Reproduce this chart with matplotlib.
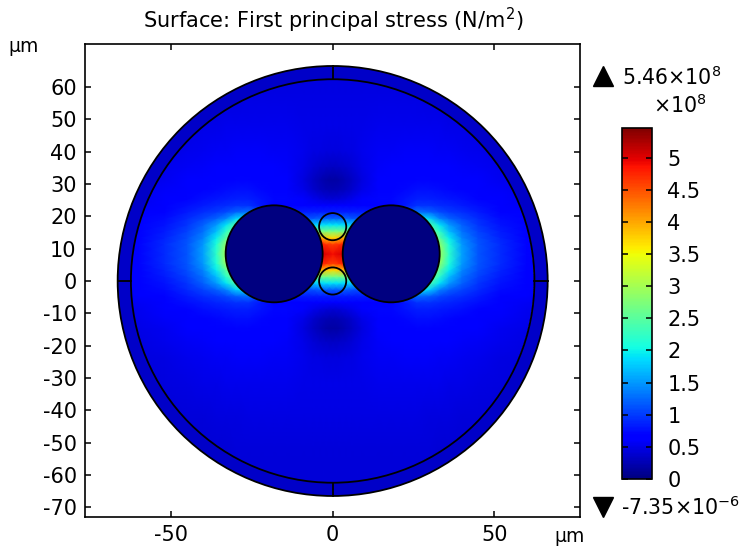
import numpy as np
import matplotlib
matplotlib.use("Agg")
import matplotlib.pyplot as plt
from matplotlib.lines import Line2D
from matplotlib.patches import Circle, Wedge

plt.rcParams["font.family"] = "DejaVu Sans"
plt.rcParams["mathtext.default"] = "regular"
plt.rcParams["axes.unicode_minus"] = False

W, H = 739, 552

# stress, 1e8 N/m^2, one quadrant around the hole centre
x_nodes = [0, 2, 4, 6, 9, 14, 18, 22, 26, 30, 33, 36, 40, 45, 52, 60, 68]
dy_nodes = [0, 3, 5, 7, 9, 11, 13, 15, 17, 20, 23, 27, 32, 40, 50, 60, 80]
stress = [
    [4.9, 5.0, 5.0, 4.8, 4.0, 3.5, 3.2, 3.1, 3.0, 3.0, 3.0, 2.2, 1.55, 1.15, 0.9, 0.7, 0.6],
    [4.6, 4.7, 4.8, 4.7, 4.0, 3.5, 3.2, 3.1, 3.0, 3.0, 2.9, 2.1, 1.5, 1.15, 0.9, 0.7, 0.6],
    [3.7, 3.8, 4.0, 3.9, 3.5, 3.2, 3.0, 2.9, 2.9, 2.9, 2.5, 1.95, 1.4, 1.1, 0.87, 0.68, 0.6],
    [2.7, 2.7, 2.7, 2.8, 2.8, 2.8, 2.8, 2.8, 2.8, 2.7, 2.2, 1.7, 1.3, 1.03, 0.82, 0.66, 0.6],
    [1.9, 1.9, 1.85, 1.8, 1.7, 1.7, 1.7, 1.9, 2.2, 2.4, 1.9, 1.5, 1.2, 0.97, 0.78, 0.65, 0.6],
    [1.2, 1.2, 1.2, 1.15, 1.1, 1.1, 1.1, 1.4, 2.0, 1.8, 1.4, 1.2, 1.05, 0.9, 0.74, 0.63, 0.58],
    [0.85, 0.85, 0.85, 0.85, 0.85, 0.8, 0.8, 0.95, 1.3, 1.2, 1.08, 1.0, 0.92, 0.82, 0.7, 0.6, 0.55],
    [0.6, 0.6, 0.62, 0.64, 0.68, 0.7, 0.7, 0.8, 0.95, 0.95, 0.9, 0.88, 0.82, 0.75, 0.66, 0.57, 0.52],
    [0.42, 0.43, 0.47, 0.52, 0.6, 0.72, 0.72, 0.78, 0.85, 0.85, 0.82, 0.8, 0.76, 0.7, 0.62, 0.55, 0.5],
    [0.25, 0.26, 0.31, 0.38, 0.5, 0.66, 0.68, 0.72, 0.75, 0.75, 0.74, 0.72, 0.68, 0.64, 0.58, 0.52, 0.48],
    [0.18, 0.2, 0.26, 0.33, 0.45, 0.6, 0.64, 0.67, 0.69, 0.69, 0.68, 0.66, 0.63, 0.6, 0.55, 0.5, 0.46],
    [0.34, 0.35, 0.38, 0.42, 0.5, 0.58, 0.6, 0.62, 0.64, 0.64, 0.63, 0.61, 0.59, 0.57, 0.52, 0.47, 0.44],
    [0.46, 0.46, 0.47, 0.49, 0.52, 0.56, 0.57, 0.58, 0.58, 0.58, 0.57, 0.56, 0.55, 0.53, 0.49, 0.45, 0.42],
    [0.5, 0.5, 0.5, 0.5, 0.51, 0.52, 0.53, 0.53, 0.53, 0.53, 0.52, 0.51, 0.5, 0.48, 0.45, 0.42, 0.4],
    [0.47, 0.47, 0.47, 0.47, 0.47, 0.47, 0.47, 0.47, 0.47, 0.46, 0.46, 0.45, 0.44, 0.43, 0.41, 0.38, 0.36],
    [0.44, 0.44, 0.44, 0.44, 0.44, 0.44, 0.44, 0.43, 0.43, 0.43, 0.42, 0.42, 0.41, 0.4, 0.38, 0.36, 0.34],
    [0.42, 0.42, 0.42, 0.42, 0.42, 0.42, 0.42, 0.41, 0.41, 0.41, 0.4, 0.4, 0.39, 0.38, 0.36, 0.34, 0.32],
]
cladding_stress = 0.36
stress_min = 0.0
stress_max = 5.46

# geometry in um
outer_r = 66.5
inner_r = 62.4
hole_r = 15.0
hole_x = 18.1
hole_y = 8.4
core_r = 4.2
core_y = [16.8, 0.0]

y_ticks = list(range(-70, 61, 10))
x_ticks = [-50, 0, 50]
cbar_ticks = [0, 0.5, 1, 1.5, 2, 2.5, 3, 3.5, 4, 4.5, 5]


def frame(left, top, right, bottom):
    return [left / W, 1 - bottom / H, (right - left) / W, (bottom - top) / H]


fig = plt.figure(figsize=(W / 100, H / 100), dpi=100)
ax = fig.add_axes(frame(85, 44, 580, 517))
ax.set_xlim(-76.6, 76.5)
ax.set_ylim(-73.0, 73.3)

# mirror the quadrant to cover the whole section
q = np.array(stress)
xq = np.array(x_nodes, float)
dy = np.array(dy_nodes, float)
xs = np.r_[-xq[:0:-1], xq]
ys = np.r_[hole_y - dy[:0:-1], hole_y + dy]
row = np.c_[q[:, :0:-1], q]
field = np.r_[row[:0:-1], row]

cmap = plt.get_cmap("jet")
norm = plt.Normalize(stress_min, stress_max)
mesh = ax.pcolormesh(xs, ys, field, shading="gouraud", cmap=cmap, norm=norm, zorder=1)
clip = Circle((0, 0), inner_r, transform=ax.transData, fc="none", ec="none")
ax.add_patch(clip)
mesh.set_clip_path(clip)

# cladding ring
ax.add_patch(Wedge((0, 0), outer_r, 0, 360, width=outer_r - inner_r,
                   fc=cmap(norm(cladding_stress)), ec="none", zorder=2))

lw = 1.3
for sx in (-1, 1):
    ax.add_patch(Circle((sx * hole_x, hole_y), hole_r, fc=cmap(0), ec="k", lw=lw, zorder=3))
for cy in core_y:
    ax.add_patch(Circle((0, cy), core_r, fc="none", ec="k", lw=lw, zorder=3))
ax.add_patch(Circle((0, 0), inner_r, fc="none", ec="k", lw=lw, zorder=3))
ax.add_patch(Circle((0, 0), outer_r, fc="none", ec="k", lw=lw, zorder=3))

# short partition lines across the ring
for s in (-1, 1):
    ax.plot([0, 0], [s * inner_r, s * outer_r], color="k", lw=lw, zorder=3)
    ax.plot([s * inner_r, s * outer_r], [0, 0], color="k", lw=lw, zorder=3)

ax.set_xticks(x_ticks)
ax.set_yticks(y_ticks)
ax.tick_params(direction="in", length=4.5, width=1.1, top=True, right=True,
               labelsize=15, pad=6)
for s in ax.spines.values():
    s.set_linewidth(1.2)

fig.text(333 / W, 1 - 20 / H, "Surface: First principal stress (N/m$^2$)",
         ha="center", va="center", fontsize=15)
fig.text(24 / W, 1 - 46 / H, "µm", ha="center", va="center", fontsize=13.5)
fig.text(570 / W, 1 - 536 / H, "µm", ha="center", va="center", fontsize=13.5)

# colour bar
cax = fig.add_axes(frame(622, 128, 652, 479))
cb = fig.colorbar(mesh, cax=cax)
cb.set_ticks(cbar_ticks)
cb.set_ticklabels([f"{t:g}" for t in cbar_ticks])
cax.tick_params(direction="in", length=4, width=1.1, left=True, right=True,
                labelsize=15, pad=11)
cb.outline.set_linewidth(1.2)

fig.add_artist(Line2D([603 / W], [1 - 76 / H], marker="^", ms=14.5, color="k", mec="k",
                      transform=fig.transFigure))
fig.add_artist(Line2D([603 / W], [1 - 507 / H], marker="v", ms=14.5, color="k", mec="k",
                      transform=fig.transFigure))
fig.text(622 / W, 1 - 77 / H, "5.46×10$^{8}$", ha="left", va="center", fontsize=14.8)
fig.text(653 / W, 1 - 105 / H, "×10$^{8}$", ha="left", va="center", fontsize=14.8)
fig.text(621 / W, 1 - 507 / H, "-7.35×10$^{-6}$", ha="left", va="center", fontsize=14.8)

fig.savefig("out.png", dpi=100)
